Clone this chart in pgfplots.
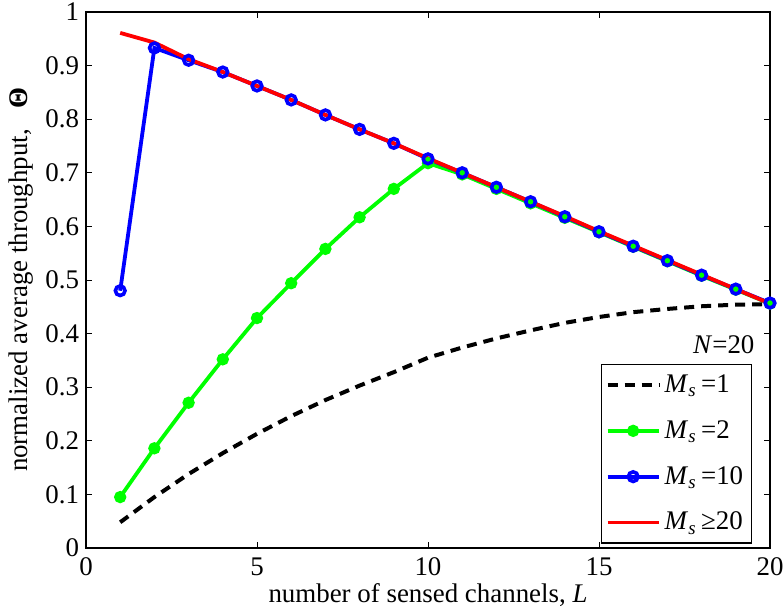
\documentclass[border=0pt]{standalone}
\usepackage{fontspec}
\setmainfont{Liberation Serif}
\usepackage{pgfplots}
\usepackage{pgfplotstable}
\pgfplotsset{compat=1.18}
\usetikzlibrary{calc}

% Normalized average throughput versus number of sensed channels (N = 20)
\pgfplotstableread{
L   ms1    ms2    ms10   ms20
1   0.048  0.095  0.480  0.961
2   0.095  0.186  0.933  0.943
3   0.138  0.271  0.910  0.912
4   0.177  0.352  0.888  0.888
5   0.213  0.429  0.862  0.862
6   0.246  0.494  0.836  0.836
7   0.276  0.558  0.808  0.808
8   0.303  0.617  0.781  0.781
9   0.328  0.670  0.755  0.755
10  0.355  0.718  0.726  0.727
11  0.374  0.697  0.700  0.700
12  0.391  0.670  0.673  0.673
13  0.406  0.643  0.646  0.646
14  0.420  0.616  0.618  0.619
15  0.431  0.589  0.590  0.591
16  0.440  0.562  0.563  0.564
17  0.446  0.535  0.536  0.537
18  0.451  0.508  0.509  0.510
19  0.454  0.482  0.483  0.483
20  0.455  0.456  0.457  0.456
}\throughput

\newcommand{\lblfont}{\fontsize{13.5}{15}\selectfont}

\begin{document}
\begin{tikzpicture}
\begin{axis}[
  scale only axis,
  width=342bp, height=268bp,
  xmin=0, xmax=20, ymin=0, ymax=1,
  xtick={0,5,10,15,20},
  ytick={0,0.1,0.2,0.3,0.4,0.5,0.6,0.7,0.8,0.9,1},
  yticklabel style={/pgf/number format/fixed,/pgf/number format/precision=1},
  xticklabel style={yshift=-1.5bp},
  /pgf/number format/assume math mode=true,
  font=\lblfont,
  tick align=inside,
  major tick length=3bp,
  tick style={black, line width=0.4pt},
  axis line style={line width=0.6pt},
  xlabel={number of sensed channels, \textit{L}},
  ylabel={normalized average throughput, \ \ \textbf{Θ}},
  xlabel style={yshift=3bp},
  ylabel style={yshift=-1bp},
  clip=false,
  legend cell align=left,
  legend style={at={(0.753,0.343)}, anchor=north west, draw=black,
    line width=0.6pt, row sep=8.5bp, inner xsep=2bp, inner ysep=3bp,
    font=\lblfont},
  legend image code/.code={%
    \draw[mark repeat=2,mark phase=2,#1] plot coordinates {(0cm,0cm) (0.45cm,0cm) (0.9cm,0cm)};},
]
\addplot[black, line width=2bp, dash pattern=on 5bp off 3.5bp] table[x=L,y=ms1] {\throughput};
\addlegendentry{\textit{M}\textsubscript{\textit{s}}\,=1}
\addplot[green, line width=1.9bp, mark=*, mark size=2.1bp, mark options={solid, fill=green}] table[x=L,y=ms2] {\throughput};
\addlegendentry{\textit{M}\textsubscript{\textit{s}}\,=2}
\addplot[blue, line width=1.9bp, mark=o, mark size=2.4bp, mark options={solid, line width=1.8bp}] table[x=L,y=ms10] {\throughput};
\addlegendentry{\textit{M}\textsubscript{\textit{s}}\,=10}
\addplot[red, line width=1.9bp] table[x=L,y=ms20] {\throughput};
\addlegendentry{\textit{M}\textsubscript{\textit{s}}\,≥20}
\node[anchor=base east, font=\lblfont] at (axis cs:19.75,0.362) {\textit{N}=20};
\end{axis}
\pgfresetboundingbox
\path (current axis.south west) ++(-43bp,-32bp) coordinate (bbsw);
\path (current axis.north east) ++(6.5bp,6bp) coordinate (bbne);
\path[use as bounding box] (bbsw) rectangle (bbne);
\end{tikzpicture}
\end{document}
